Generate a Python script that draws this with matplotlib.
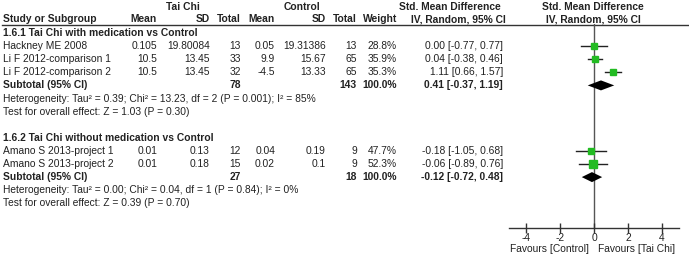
import numpy as np
import matplotlib
matplotlib.use("Agg")
import matplotlib.pyplot as plt

# ---- data ----
group_titles = ["1.6.1 Tai Chi with medication vs Control",
                "1.6.2 Tai Chi without medication vs Control"]
studies = [["Hackney ME 2008", "Li F 2012-comparison 1", "Li F 2012-comparison 2"],
           ["Amano S 2013-project 1", "Amano S 2013-project 2"]]
tc_mean = [["0.105", "10.5", "10.5"], ["0.01", "0.01"]]
tc_sd = [["19.80084", "13.45", "13.45"], ["0.13", "0.18"]]
tc_n = [[13, 33, 32], [12, 15]]
ct_mean = [["0.05", "9.9", "-4.5"], ["0.04", "0.02"]]
ct_sd = [["19.31386", "15.67", "13.33"], ["0.19", "0.1"]]
ct_n = [[13, 65, 65], [9, 9]]
weights = [[28.8, 35.9, 35.3], [47.7, 52.3]]
smd = [[0.00, 0.04, 1.11], [-0.18, -0.06]]
ci_lo = [[-0.77, -0.38, 0.66], [-1.05, -0.89]]
ci_hi = [[0.77, 0.46, 1.57], [0.68, 0.76]]
sub_smd = [0.41, -0.12]
sub_lo = [-0.37, -0.72]
sub_hi = [1.19, 0.48]
heterogeneity = ["Heterogeneity: Tau\u00b2 = 0.39; Chi\u00b2 = 13.23, df = 2 (P = 0.001); I\u00b2 = 85%",
                 "Heterogeneity: Tau\u00b2 = 0.00; Chi\u00b2 = 0.04, df = 1 (P = 0.84); I\u00b2 = 0%"]
overall = ["Test for overall effect: Z = 1.03 (P = 0.30)",
           "Test for overall effect: Z = 0.39 (P = 0.70)"]
ticks = [-4, -2, 0, 2, 4]

W, H = 689, 258
plt.rcParams['font.family'] = ['Liberation Sans', 'DejaVu Sans']
fs = 7.4
txt_col = '#222222'
green = '#22bb22'

fig = plt.figure(figsize=(W / 100, H / 100), dpi=100)
ax = fig.add_axes([0, 0, 1, 1])
ax.set_xlim(0, W)
ax.set_ylim(H, 0)
ax.axis('off')

# forest panel: x in SMD units, y in the same pixel rows as the table
x0, x1, ytop, ybot = 509, 679, 24, 228
fx = fig.add_axes([x0 / W, 1 - ybot / H, (x1 - x0) / W, (ybot - ytop) / H])
fx.set_xlim(-5, 5)
fx.set_ylim(ybot, ytop)
fx.patch.set_alpha(0)
for s in ['top', 'left', 'right']:
    fx.spines[s].set_visible(False)
fx.spines['bottom'].set_color('#333333')
fx.spines['bottom'].set_linewidth(1)
fx.set_yticks([])
fx.set_xticks(ticks)
fx.set_xticklabels([str(t) for t in ticks], fontsize=fs, color=txt_col)
fx.tick_params(axis='x', direction='inout', length=7, width=1, color='#333333', pad=0)
fx.axvline(0, color='#555555', lw=1, zorder=1)


def row_y(i):
    return 33 + i * 13.1


def put(x, y, s, ha='left', bold=False):
    ax.text(x, y, s, ha=ha, va='center', fontsize=fs, color=txt_col,
            fontweight='bold' if bold else 'normal')


# header
hy = 19.5
put(183, 7, "Tai Chi", ha='center', bold=True)
put(302, 7, "Control", ha='center', bold=True)
put(450, 7, "Std. Mean Difference", ha='center', bold=True)
put(593, 7, "Std. Mean Difference", ha='center', bold=True)
put(3, hy, "Study or Subgroup", bold=True)
put(157, hy, "Mean", ha='right', bold=True)
put(210, hy, "SD", ha='right', bold=True)
put(241, hy, "Total", ha='right', bold=True)
put(275, hy, "Mean", ha='right', bold=True)
put(326, hy, "SD", ha='right', bold=True)
put(357, hy, "Total", ha='right', bold=True)
put(397, hy, "Weight", ha='right', bold=True)
put(458, hy, "IV, Random, 95% CI", ha='center', bold=True)
put(593, hy, "IV, Random, 95% CI", ha='center', bold=True)
ax.plot([2, W], [24.5, 24.5], color='#333333', lw=1)

row = 0
for g in range(len(group_titles)):
    put(3, row_y(row), group_titles[g], bold=True)
    row += 1
    for k in range(len(studies[g])):
        y = row_y(row)
        put(3, y, studies[g][k])
        put(157, y, tc_mean[g][k], ha='right')
        put(210, y, tc_sd[g][k], ha='right')
        put(241, y, str(tc_n[g][k]), ha='right')
        put(275, y, ct_mean[g][k], ha='right')
        put(326, y, ct_sd[g][k], ha='right')
        put(357, y, str(ct_n[g][k]), ha='right')
        put(397, y, f"{weights[g][k]:.1f}%", ha='right')
        put(503, y, f"{smd[g][k]:.2f} [{ci_lo[g][k]:.2f}, {ci_hi[g][k]:.2f}]", ha='right')
        fx.plot([ci_lo[g][k], ci_hi[g][k]], [y, y], color='#222222', lw=1, zorder=2)
        side = np.sqrt(weights[g][k])
        fx.plot(smd[g][k], y, marker='s', ms=side * 0.72, color=green, mec=green, zorder=3)
        row += 1
    y = row_y(row)
    put(3, y, "Subtotal (95% CI)", bold=True)
    put(241, y, str(sum(tc_n[g])), ha='right', bold=True)
    put(357, y, str(sum(ct_n[g])), ha='right', bold=True)
    put(397, y, "100.0%", ha='right', bold=True)
    put(503, y, f"{sub_smd[g]:.2f} [{sub_lo[g]:.2f}, {sub_hi[g]:.2f}]", ha='right', bold=True)
    fx.fill([sub_lo[g], sub_smd[g], sub_hi[g], sub_smd[g]],
            [y, y - 5, y, y + 5], color='black', lw=0, zorder=3)
    row += 1
    put(3, row_y(row), heterogeneity[g])
    row += 1
    put(3, row_y(row), overall[g])
    row += 2

put(589, 249, "Favours [Control]", ha='right')
put(598, 249, "Favours [Tai Chi]", ha='left')

fig.savefig("out.png", dpi=100)
